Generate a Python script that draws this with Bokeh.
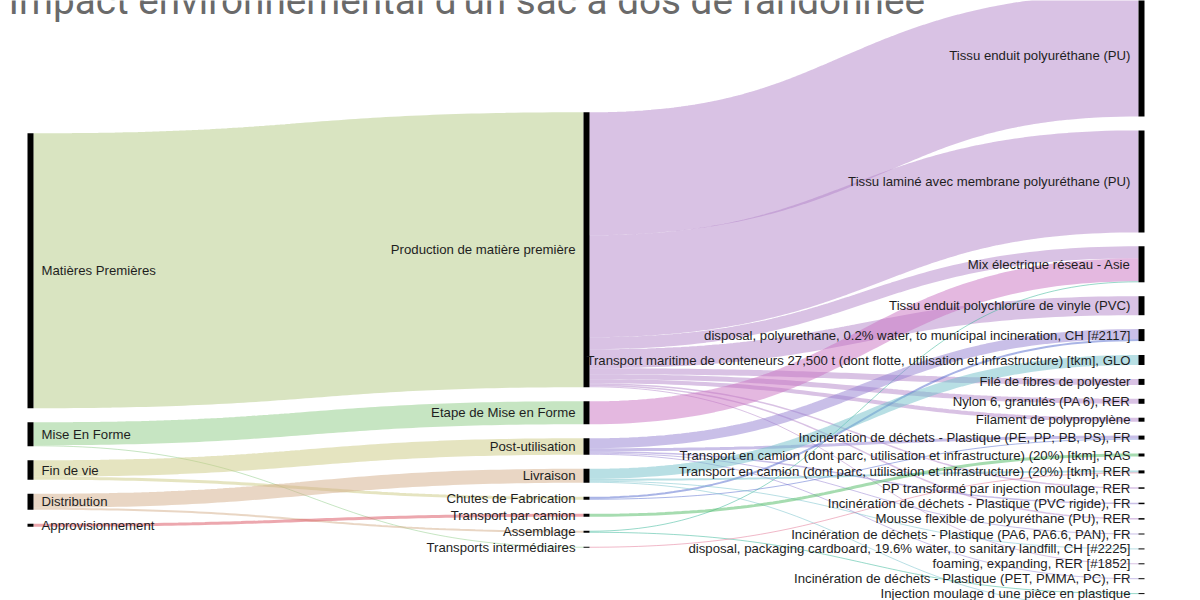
import numpy as np
from bokeh.plotting import figure
from bokeh.models import Range1d, ColumnDataSource, Label
from bokeh.core.properties import value
from bokeh.embed import file_html
from bokeh.resources import INLINE

TITLE = "Impact environnemental d'un sac à dos de randonnée"

# ---------------- data ----------------
col0_nodes = ["Matières Premières", "Mise En Forme", "Fin de vie", "Distribution",
              "Approvisionnement"]
col1_nodes = ["Production de matière première", "Etape de Mise en Forme", "Post-utilisation",
              "Livraison", "Chutes de Fabrication", "Transport par camion", "Assemblage",
              "Transports intermédiaires"]
col2_nodes = [
    "Tissu enduit polyuréthane (PU)",
    "Tissu laminé avec membrane polyuréthane (PU)",
    "Mix électrique réseau - Asie",
    "Tissu enduit polychlorure de vinyle (PVC)",
    "disposal, polyurethane, 0.2% water, to municipal incineration, CH [#2117]",
    "Transport maritime de conteneurs 27,500 t (dont flotte, utilisation et infrastructure) [tkm], GLO",
    "Filé de fibres de polyester",
    "Nylon 6, granulés (PA 6), RER",
    "Filament de polypropylène",
    "Incinération de déchets - Plastique (PE, PP; PB, PS), FR",
    "Transport en camion (dont parc, utilisation et infrastructure) (20%) [tkm], RAS",
    "Transport en camion (dont parc, utilisation et infrastructure) (20%) [tkm], RER",
    "PP transformé par injection moulage, RER",
    "Incinération de déchets - Plastique (PVC rigide), FR",
    "Mousse flexible de polyuréthane (PU), RER",
    "Incinération de déchets - Plastique (PA6, PA6.6, PAN), FR",
    "disposal, packaging cardboard, 19.6% water, to sanitary landfill, CH [#2225]",
    "foaming, expanding, RER [#1852]",
    "Incinération de déchets - Plastique (PET, PMMA, PC), FR",
    "Injection moulage d une pièce en plastique",
    "Emballage carton ondulé, fibres recyclées (CCR), RER",
]

link_source = [
    "Matières Premières", "Mise En Forme", "Mise En Forme", "Fin de vie", "Fin de vie",
    "Distribution", "Distribution", "Approvisionnement",
    "Production de matière première", "Production de matière première",
    "Production de matière première", "Production de matière première",
    "Production de matière première", "Production de matière première",
    "Production de matière première", "Production de matière première",
    "Production de matière première", "Production de matière première",
    "Etape de Mise en Forme", "Assemblage", "Assemblage",
    "Post-utilisation", "Post-utilisation", "Post-utilisation", "Post-utilisation",
    "Post-utilisation",
    "Chutes de Fabrication", "Chutes de Fabrication",
    "Livraison", "Livraison", "Livraison", "Livraison",
    "Transports intermédiaires", "Transport par camion",
]
link_target = [
    "Production de matière première", "Etape de Mise en Forme", "Transports intermédiaires",
    "Post-utilisation", "Chutes de Fabrication", "Livraison", "Assemblage",
    "Transport par camion",
    col2_nodes[0], col2_nodes[1], col2_nodes[2], col2_nodes[3], col2_nodes[6],
    col2_nodes[7], col2_nodes[8], col2_nodes[12], col2_nodes[14], col2_nodes[17],
    col2_nodes[2], col2_nodes[2], col2_nodes[19],
    col2_nodes[4], col2_nodes[9], col2_nodes[13], col2_nodes[15], col2_nodes[18],
    col2_nodes[4], col2_nodes[9],
    col2_nodes[5], col2_nodes[11], col2_nodes[16], col2_nodes[20],
    col2_nodes[11], col2_nodes[10],
]
link_value = [
    275, 23, 1, 16.5, 3, 14, 2, 3,
    123, 102, 12, 19, 6, 5, 4, 1.5, 1.5, 1,
    23, 1, 1,
    10, 3, 1.5, 1, 1,
    2, 1,
    10, 2, 1, 1,
    1, 3,
]

# link colour = colour of the source node
source_colors = {
    "Matières Premières": "#b3c983",
    "Mise En Forme": "#8dcb85",
    "Fin de vie": "#cbc981",
    "Distribution": "#d3ad89",
    "Approvisionnement": "#d9505e",
    "Production de matière première": "#b385c9",
    "Etape de Mise en Forme": "#c971c1",
    "Post-utilisation": "#937fd1",
    "Livraison": "#71bfc9",
    "Chutes de Fabrication": "#5369cd",
    "Transport par camion": "#4db961",
    "Assemblage": "#2fb393",
    "Transports intermédiaires": "#e17191",
}

# ---------------- layout ----------------
W, H = 1200, 600
NODE_W = 6
PADS = [14, 14, 13.9]
COL_X = [27, 583, 1138]
CENTER_Y = 329.5
RIGHT_TOP = -7
LABEL_GAP = 8
columns = [col0_nodes, col1_nodes, col2_nodes]

val_in = {}
val_out = {}
for s, t, v in zip(link_source, link_target, link_value):
    val_out[s] = val_out.get(s, 0) + v
    val_in[t] = val_in.get(t, 0) + v

node_x0, node_y0, node_y1, node_col = {}, {}, {}, {}
for ci, col in enumerate(columns):
    vals = [max(val_in.get(n, 0), val_out.get(n, 0)) for n in col]
    total = sum(vals) + PADS[ci] * (len(col) - 1)
    y = RIGHT_TOP if ci == 2 else CENTER_Y - total / 2
    for n, v in zip(col, vals):
        node_x0[n] = COL_X[ci]
        node_y0[n] = y
        node_y1[n] = y + v
        node_col[n] = ci
        y += v + PADS[ci]

# link offsets within nodes
idx = list(range(len(link_value)))
ly0 = [0.0] * len(idx)
ly1 = [0.0] * len(idx)
for n in node_x0:
    outs = sorted([i for i in idx if link_source[i] == n], key=lambda i: node_y0[link_target[i]])
    y = node_y0[n]
    for i in outs:
        ly0[i] = y + link_value[i] / 2
        y += link_value[i]
    ins = sorted([i for i in idx if link_target[i] == n], key=lambda i: node_y0[link_source[i]])
    y = node_y0[n]
    for i in ins:
        ly1[i] = y + link_value[i] / 2
        y += link_value[i]

tt = np.linspace(0, 1, 80)
xs, ys, ws, cs = [], [], [], []
for i in idx:
    x0 = node_x0[link_source[i]] + NODE_W
    x1 = node_x0[link_target[i]]
    xm = (x0 + x1) / 2
    a, b = ly0[i], ly1[i]
    bx = (1 - tt) ** 3 * x0 + 3 * (1 - tt) ** 2 * tt * xm + 3 * (1 - tt) * tt ** 2 * xm + tt ** 3 * x1
    by = (1 - tt) ** 3 * a + 3 * (1 - tt) ** 2 * tt * a + 3 * (1 - tt) * tt ** 2 * b + tt ** 3 * b
    xs.append(bx.tolist())
    ys.append(by.tolist())
    ws.append(max(1.0, link_value[i]))
    cs.append(source_colors[link_source[i]])

p = figure(width=W, height=H, x_range=Range1d(0, W), y_range=Range1d(H, 0),
           output_backend="svg", toolbar_location=None, min_border=0,
           x_axis_location=None, y_axis_location=None)
p.grid.visible = False
p.outline_line_color = None
p.background_fill_color = "white"

p.multi_line(xs="xs", ys="ys", line_width="w", line_color="c", line_alpha=0.5,
             source=ColumnDataSource(dict(xs=xs, ys=ys, w=ws, c=cs)))

names = list(node_x0.keys())
p.quad(left=[node_x0[n] for n in names], right=[node_x0[n] + NODE_W for n in names],
       top=[node_y0[n] for n in names], bottom=[node_y1[n] for n in names],
       fill_color="#000000", line_color=None)

lx, ly, lt, la = [], [], [], []
for n in names:
    if node_col[n] == 0:
        lx.append(node_x0[n] + NODE_W + LABEL_GAP); la.append("left")
    else:
        lx.append(node_x0[n] - LABEL_GAP); la.append("right")
    ly.append((node_y0[n] + node_y1[n]) / 2)
    lt.append(n)
p.text(x="x", y="y", text="t", text_align="a", text_baseline="middle",
       text_font=value("Liberation Sans"), text_font_size="13.2px", text_color="#1e1e1e",
       source=ColumnDataSource(dict(x=lx, y=ly, t=lt, a=la)))

p.add_layout(Label(x=8, y=0, text=TITLE, text_font="Roboto", text_font_size="38.7px",
                   text_color="#6a6a6a", text_baseline="alphabetic"))

open("out.html", "w").write(file_html(p, INLINE))
